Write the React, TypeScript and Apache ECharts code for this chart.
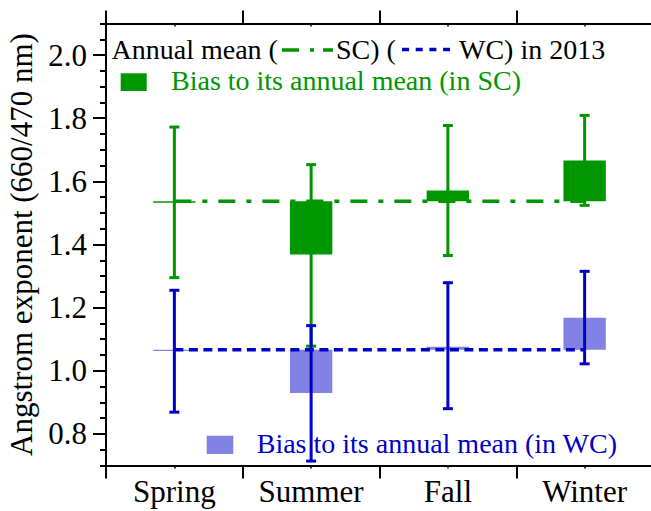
import React, { useEffect, useRef } from 'react';
import * as echarts from 'echarts';

// ---- data ----
const seasons = ['Spring', 'Summer', 'Fall', 'Winter'];
const scAnnualMean = 1.537;
const wcAnnualMean = 1.067;
const scSeasonMean = [1.532, 1.368, 1.571, 1.666];
const wcSeasonMean = [1.063, 0.93, 1.076, 1.168];
const scErrLow = [1.295, 1.078, 1.365, 1.524];
const scErrHigh = [1.772, 1.653, 1.777, 1.809];
const wcErrLow = [0.869, 0.714, 0.88, 1.022];
const wcErrHigh = [1.255, 1.143, 1.279, 1.315];
const yMajorTicks = [0.8, 1.0, 1.2, 1.4, 1.6, 1.8, 2.0];

const FONT = "'Times New Roman', 'Liberation Serif', 'DejaVu Serif', serif";
const GREEN = '#009600';
const BLUE = '#0000c8';
const LIGHTBLUE = '#8282e4';

const barItem = (color: string) => (params: any, api: any) => {
  const i = api.value(0);
  const a = api.coord([i, api.value(1)]);
  const b = api.coord([i, api.value(2)]);
  const w = api.size([1, 0])[0] * 0.31;
  const top = Math.min(a[1], b[1]);
  return {
    type: 'rect',
    shape: { x: a[0] - w / 2, y: top, width: w, height: Math.abs(a[1] - b[1]) },
    style: { fill: color },
  };
};

const errItem = (color: string) => (params: any, api: any) => {
  const i = api.value(0);
  const lo = api.coord([i, api.value(1)]);
  const hi = api.coord([i, api.value(2)]);
  const cap = 5;
  const st = { stroke: color, lineWidth: 3 };
  return {
    type: 'group',
    children: [
      { type: 'line', shape: { x1: lo[0], y1: lo[1], x2: hi[0], y2: hi[1] }, style: st },
      { type: 'line', shape: { x1: lo[0] - cap, y1: lo[1], x2: lo[0] + cap, y2: lo[1] }, style: st },
      { type: 'line', shape: { x1: hi[0] - cap, y1: hi[1], x2: hi[0] + cap, y2: hi[1] }, style: st },
    ],
  };
};

export default function App() {
  const ref = useRef<HTMLDivElement>(null);
  useEffect(() => {
    if (!ref.current) return;
    const chart = echarts.init(ref.current, null, { renderer: 'svg' });
    const axisLineStyle = { color: '#000', width: 2 };
    const scBars = seasons.map((_, i) => [i, Math.min(scAnnualMean, scSeasonMean[i]), Math.max(scAnnualMean, scSeasonMean[i])]);
    const wcBars = seasons.map((_, i) => [i, Math.min(wcAnnualMean, wcSeasonMean[i]), Math.max(wcAnnualMean, wcSeasonMean[i])]);
    const scErr = seasons.map((_, i) => [i, scErrLow[i], scErrHigh[i]]);
    const wcErr = seasons.map((_, i) => [i, wcErrLow[i], wcErrHigh[i]]);
    const textStyle = (fill: string) => ({ fill, fontSize: 28, fontFamily: FONT, verticalAlign: 'middle' });

    chart.setOption({
      animation: false,
      backgroundColor: '#fff',
      textStyle: { fontFamily: FONT },
      grid: { left: 106, top: 23.5, width: 547, height: 442, outerBoundsMode: 'none' },
      xAxis: [
        {
          type: 'category', data: seasons, position: 'bottom',
          axisLine: { show: true, onZero: false, lineStyle: axisLineStyle },
          axisTick: { show: true, inside: false, length: 13, lineStyle: axisLineStyle },
          axisLabel: { fontSize: 31, fontFamily: FONT, color: '#000', margin: 10.5 },
          splitLine: { show: false },
        },
        {
          type: 'category', data: seasons, position: 'bottom',
          axisLine: { show: false, onZero: false },
          axisTick: { show: true, alignWithLabel: true, length: 3, lineStyle: { color: '#000', width: 1.5 } },
          axisLabel: { show: false }, splitLine: { show: false },
        },
        {
          type: 'category', data: seasons, position: 'top',
          axisLine: { show: true, onZero: false, lineStyle: axisLineStyle },
          axisTick: { show: true, inside: false, length: 13, lineStyle: axisLineStyle },
          axisLabel: { show: false }, splitLine: { show: false },
        },
        {
          type: 'category', data: seasons, position: 'top',
          axisLine: { show: false, onZero: false },
          axisTick: { show: true, alignWithLabel: true, inside: true, length: 3, lineStyle: { color: '#000', width: 1.5 } },
          axisLabel: { show: false }, splitLine: { show: false },
        },
      ],
      yAxis: [
        {
          type: 'value', min: 0.7, max: 2.1, interval: 0.1, position: 'left',
          name: 'Angstrom exponent (660/470 nm)', nameLocation: 'middle', nameGap: 66,
          nameTextStyle: { fontSize: 31, fontFamily: FONT, color: '#000' },
          axisLine: { show: true, onZero: false, lineStyle: axisLineStyle },
          axisTick: { show: true, inside: false, length: 13, customValues: yMajorTicks, lineStyle: axisLineStyle },
          axisLabel: {
            customValues: yMajorTicks, formatter: (v: number) => v.toFixed(1),
            fontSize: 31, fontFamily: FONT, color: '#000', margin: 19,
          },
          splitLine: { show: false },
        },
        {
          type: 'value', min: 0.7, max: 2.1, interval: 0.05, position: 'left',
          axisLine: { show: false, onZero: false },
          axisTick: { show: true, inside: false, length: 6, lineStyle: axisLineStyle },
          axisLabel: { show: false }, splitLine: { show: false },
        },
      ],
      graphic: [
        { type: 'text', x: 111.5, y: 49.5, style: { text: 'Annual mean (', ...textStyle('#000') } },
        { type: 'line', shape: { x1: 282, y1: 50, x2: 333, y2: 50 }, style: { stroke: GREEN, lineWidth: 3.5, lineDash: [17, 11, 4, 9] } },
        { type: 'text', x: 336, y: 49.5, style: { text: 'SC) (', ...textStyle('#000') } },
        { type: 'line', shape: { x1: 402, y1: 49.5, x2: 450, y2: 49.5 }, style: { stroke: BLUE, lineWidth: 3.5, lineDash: [7, 6.7] } },
        { type: 'text', x: 459, y: 49.5, style: { text: 'WC) in 2013', ...textStyle('#000') } },
        { type: 'rect', shape: { x: 120.7, y: 73.3, width: 26, height: 17.7 }, style: { fill: GREEN } },
        { type: 'text', x: 171, y: 80.5, style: { text: 'Bias to its annual mean (in SC)', ...textStyle(GREEN) } },
        { type: 'rect', shape: { x: 206.7, y: 435.7, width: 26.6, height: 18.3 }, style: { fill: LIGHTBLUE } },
        { type: 'text', x: 256.7, y: 443.8, style: { text: 'Bias to its annual mean (in WC)', ...textStyle(BLUE) } },
      ],
      series: [
        { type: 'custom', name: 'SC bias', data: scBars, renderItem: barItem(GREEN), encode: { x: 0, y: [1, 2] }, z: 2 },
        { type: 'custom', name: 'WC bias', data: wcBars, renderItem: barItem(LIGHTBLUE), encode: { x: 0, y: [1, 2] }, z: 2 },
        {
          type: 'line', name: 'SC annual mean', data: seasons.map(() => scAnnualMean), symbol: 'none', z: 3,
          lineStyle: { color: GREEN, width: 3.5, type: [17, 11, 5, 11] },
        },
        {
          type: 'line', name: 'WC annual mean', data: seasons.map(() => wcAnnualMean), symbol: 'none', z: 3,
          lineStyle: { color: BLUE, width: 3.5, type: [9, 5.5] },
        },
        { type: 'custom', name: 'SC range', data: scErr, renderItem: errItem(GREEN), encode: { x: 0, y: [1, 2] }, z: 4 },
        { type: 'custom', name: 'WC range', data: wcErr, renderItem: errItem(BLUE), encode: { x: 0, y: [1, 2] }, z: 5 },
      ],
    });
    return () => chart.dispose();
  }, []);
  return <div ref={ref} style={{ position: 'absolute', left: 0, top: 0, width: 651, height: 511 }} />;
}
